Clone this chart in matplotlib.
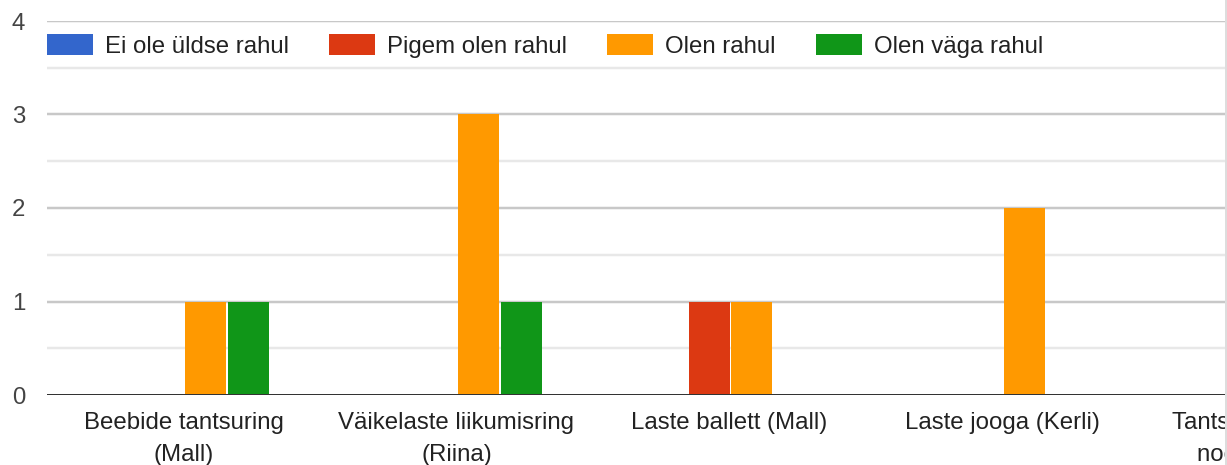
import numpy as np
import matplotlib
matplotlib.use('Agg')
import matplotlib.pyplot as plt
from matplotlib.lines import Line2D

# Data
categories = ['Beebide tantsuring\n(Mall)', 'Väikelaste liikumisring\n(Riina)',
              'Laste ballett (Mall)', 'Laste jooga (Kerli)',
              'Tantsuline liikumine\nnoortele (Kerli)']
series_names = ['Ei ole üldse rahul', 'Pigem olen rahul', 'Olen rahul', 'Olen väga rahul']
ei_ole = [0, 0, 0, 0, 0]
pigem = [0, 0, 1, 0, 0]
olen = [1, 3, 1, 2, 0]
vaga = [1, 1, 0, 0, 0]
series_values = [ei_ole, pigem, olen, vaga]
colors = ['#3366cc', '#dc3912', '#ff9900', '#109618']

W, H, DPI = 1227, 465, 100
px = 72.0 / DPI  # one pixel in points

plt.rcParams['font.family'] = ['Liberation Sans', 'DejaVu Sans']

fig = plt.figure(figsize=(W / DPI, H / DPI), dpi=DPI)
# axes run off the right edge of the picture, like the cropped original
cat_px = 273.0
left_px, bottom_px, top_px = 47, 395, 21
ax = fig.add_axes([left_px / W, (H - bottom_px) / H, 5 * cat_px / W, (bottom_px - top_px) / H])

x = np.arange(len(categories))
bw = 42.5 / cat_px
for i, (name, vals, c) in enumerate(zip(series_names, series_values, colors)):
    ax.bar(x + (i - 1.5) * bw + 1 / cat_px, vals, width=bw - 1.5 / cat_px, color=c, label=name,
           linewidth=0, zorder=3)

ax.set_xlim(-0.5, 4.5)
ax.set_ylim(0, 4)

# grid
for y in [1, 2, 3, 4]:
    ax.axhline(y, color='#c8c8c8', lw=2.5 * px, zorder=1)
for y in [0.5, 1.5, 2.5, 3.5]:
    ax.axhline(y, color='#e8e8e8', lw=2.5 * px, zorder=1)
ax.axhline(0, color='#333333', lw=3 * px, zorder=4)

for s in ax.spines.values():
    s.set_visible(False)

fs = 24 * px
ax.set_yticks([0, 1, 2, 3, 4])
ax.set_yticklabels(['0', '1', '2', '3', '4'], fontsize=fs, color='#444444')
ax.set_xticks(x)
ax.set_xticklabels(categories, fontsize=fs, color='#222222', linespacing=1.6)
ax.tick_params(axis='y', length=0, pad=22 * px)
ax.tick_params(axis='x', length=0, pad=17 * px)

leg = ax.legend(loc='center left', bbox_to_anchor=(0, (H - 46 - (H - bottom_px)) / (bottom_px - top_px)),
                ncol=4, frameon=False, fontsize=fs, handlelength=1.92, handleheight=0.92,
                handletextpad=0.5, columnspacing=1.67, borderaxespad=0, borderpad=0)
for t in leg.get_texts():
    t.set_color('#222222')

# light border on the right
fig.add_artist(Line2D([1225.5 / W, 1225.5 / W], [0, 1], color='#dddddd', lw=2 * px))

fig.savefig('out.png', dpi=DPI, facecolor='white')
